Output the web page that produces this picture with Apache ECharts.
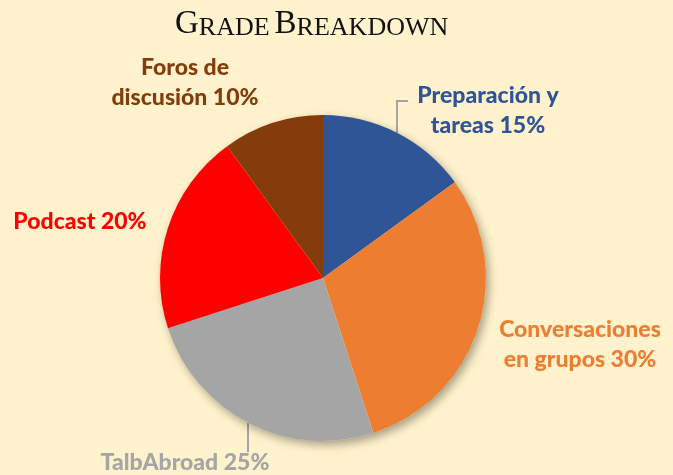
<!DOCTYPE html>
<html>
<head>
<meta charset="utf-8">
<script src="https://cdn.jsdelivr.net/npm/echarts@6/dist/echarts.min.js"></script>
<style>
  html, body { margin: 0; padding: 0; background: #FFF2CC; }
  #grades { width: 673px; height: 475px; }
</style>
</head>
<body>
<div id="grades"></div>
<script>
var categories = ['Preparación y\ntareas', 'Conversaciones\nen grupos', 'TalbAbroad', 'Podcast', 'Foros de\ndiscusión'];
var values = [15, 30, 25, 20, 10];
var colors = ['#2F5597', '#ED7D31', '#A5A5A5', '#FF0000', '#843C0C'];

// where each label sits (centre of text), plus leader lines for two of them
var labelSpots = [
    {x: 488, y: 111, line: [[397, 133], [397, 101], [408, 101]]},
    {x: 580, y: 345},
    {x: 185, y: 463, line: [[248, 423], [248, 452], [248, 452]]},
    {x: 80, y: 222},
    {x: 185, y: 83}
];

var myChart = echarts.init(document.getElementById('grades'));

var pieData = [];
var total = 0;
$each = function (arr, fn) { for (var i = 0; i < arr.length; i++) fn(i, arr[i]); };
$each(values, function (k, v) {
    total += v;
    pieData.push({
        name: categories[k],
        value: v,
        itemStyle: {color: colors[k]},
        label: {color: colors[k]},
        labelLine: {show: !!labelSpots[k].line}
    });
});

myChart.setOption({
    backgroundColor: '#FFF2CC',
    title: {
        text: '{a|G}{b|RADE} {a|B}{b|REAKDOWN}',
        left: 170,
        top: 3,
        textStyle: {
            fontWeight: 'normal',
            rich: {
                a: {fontFamily: 'Liberation Serif', fontWeight: 'normal', fontSize: 33, color: '#111', verticalAlign: 'bottom'},
                b: {fontFamily: 'Liberation Serif', fontWeight: 'normal', fontSize: 26, color: '#111', verticalAlign: 'bottom'}
            }
        }
    },
    series: [
        {
            // soft shadow under the whole pie
            type: 'pie',
            silent: true,
            center: [323, 278],
            radius: 163,
            label: {show: false},
            labelLine: {show: false},
            itemStyle: {
                color: '#FFF2CC',
                shadowBlur: 10,
                shadowOffsetX: 3,
                shadowOffsetY: 4,
                shadowColor: 'rgba(0,0,0,0.35)'
            },
            data: [{value: total}]
        },
        {
            name: 'Grade',
            type: 'pie',
            center: [323, 278],
            radius: 163,
            startAngle: 90,
            clockwise: true,
            data: pieData,
            label: {
                show: true,
                position: 'outside',
                formatter: '{b} {c}%',
                fontFamily: 'Lato',
                fontWeight: 900,
                fontSize: 23,
                lineHeight: 30,
                align: 'center',
                overflow: 'none',
                width: 300
            },
            labelLine: {
                lineStyle: {color: '#A5A5A5', width: 2}
            },
            labelLayout: function (p) {
                var s = labelSpots[p.dataIndex];
                var out = {x: s.x, y: s.y, align: 'center', verticalAlign: 'middle'};
                if (s.line) out.labelLinePoints = s.line;
                return out;
            }
        }
    ]
});
</script>
</body>
</html>
